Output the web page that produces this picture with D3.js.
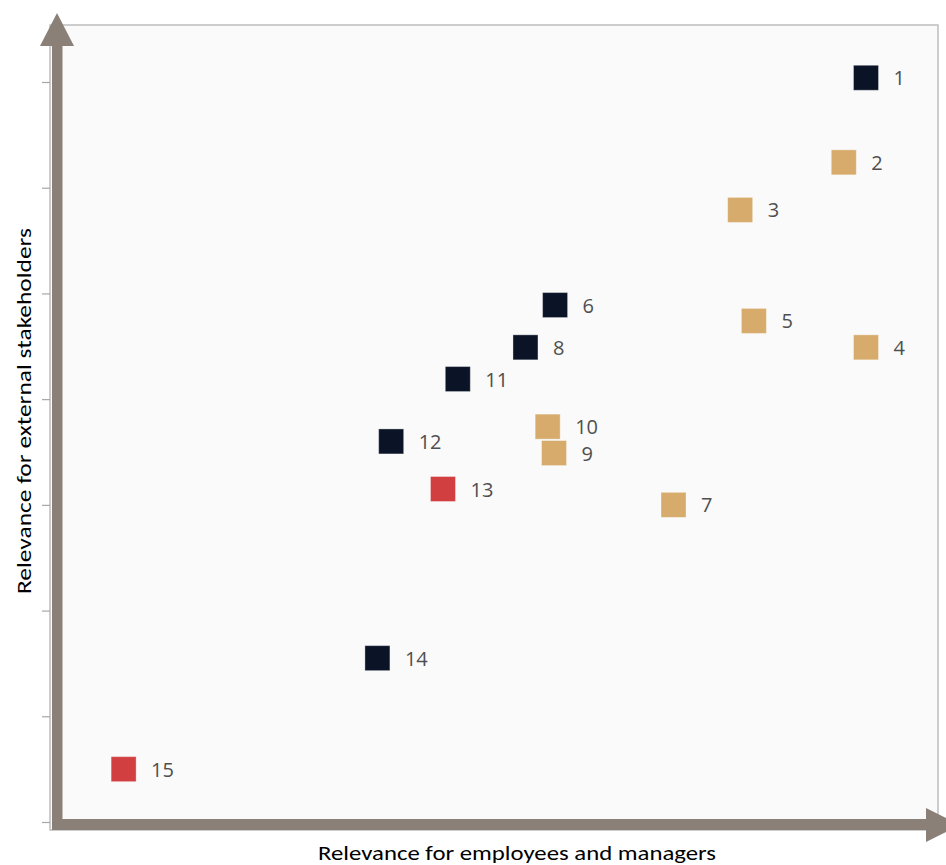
<!DOCTYPE html>
<html>
<head>
<meta charset="utf-8">
<script src="https://cdn.jsdelivr.net/npm/d3@7"></script>
<style>
  body { margin: 0; background: #ffffff; }
</style>
</head>
<body>
<div id="chart"></div>
<script>
// data
var ids = [1, 2, 3, 4, 5, 6, 7, 8, 9, 10, 11, 12, 13, 14, 15];
var employees = [7.65, 7.44, 6.46, 7.65, 6.59, 4.71, 5.83, 4.43, 4.70, 4.64, 3.79, 3.16, 3.65, 3.03, 0.63];
var stakeholders = [7.04, 6.24, 5.79, 4.49, 4.74, 4.89, 3.00, 4.49, 3.49, 3.74, 4.19, 3.60, 3.15, 1.55, 0.50];
var groups = ["A", "B", "B", "B", "B", "A", "B", "A", "B", "B", "A", "A", "C", "A", "C"];
var yTicks = [0, 1, 2, 3, 4, 5, 6, 7];

var w = 946;
var h = 865;
var axisColor = "#8a8077";

var svg = d3.select("#chart")
    .append("svg")
    .attr("width", w)
    .attr("height", h);

// Scales
var xScale = d3.scaleLinear()
    .domain([0, 8])
    .range([57, 903]);

var yScale = d3.scaleLinear()
    .domain([0, 7])
    .range([822, 82]);

var color = d3.scaleOrdinal()
    .domain(["A", "B", "C"])
    .range(["#0b1427", "#d6ab6b", "#d13f40"]);

// Plot background
svg.append("rect")
    .attr("x", 50)
    .attr("y", 25)
    .attr("width", 888)
    .attr("height", 805)
    .attr("fill", "#fafafa")
    .attr("stroke", "#bdbdbd")
    .attr("stroke-width", 1.5);

// Y axis ticks (no labels)
var yAxis = d3.axisLeft(yScale)
    .tickValues(yTicks)
    .tickSize(8)
    .tickSizeOuter(0)
    .tickFormat("");

var gy = svg.append("g")
    .attr("transform", "translate(50,0)")
    .call(yAxis);
gy.select(".domain").remove();
gy.selectAll(".tick line").attr("stroke", "#a6a6a6").attr("stroke-width", 1.2);

// Thick arrow axes
svg.append("rect")
    .attr("x", 52)
    .attr("y", 44)
    .attr("width", 10.5)
    .attr("height", 786)
    .attr("fill", axisColor);

svg.append("path")
    .attr("d", "M57,13 L74,46 L40,46 Z")
    .attr("fill", axisColor);

svg.append("rect")
    .attr("x", 52)
    .attr("y", 819)
    .attr("width", 876)
    .attr("height", 11)
    .attr("fill", axisColor);

svg.append("path")
    .attr("d", "M926,808 L960,825 L926,842 Z")
    .attr("fill", axisColor);

// Points
var data = ids.map(function (id, i) {
    return { id: id, x: employees[i], y: stakeholders[i], group: groups[i] };
});

var size = 25;

svg.selectAll("rect.pt")
    .data(data)
    .enter()
    .append("rect")
    .attr("class", "pt")
    .attr("x", d => xScale(d.x) - size / 2)
    .attr("y", d => yScale(d.y) - size / 2)
    .attr("width", size)
    .attr("height", size)
    .attr("fill", d => color(d.group))
    .attr("stroke", "#ffffff")
    .attr("stroke-opacity", 0.35)
    .attr("stroke-width", 1);

svg.selectAll("text.lbl")
    .data(data)
    .enter()
    .append("text")
    .attr("class", "lbl")
    .attr("x", d => xScale(d.x) + size / 2 + 15)
    .attr("y", d => yScale(d.y) + 7.5)
    .attr("font-family", "'Open Sans', sans-serif")
    .attr("font-size", "20px")
    .attr("fill", "#4f4f4f")
    .text(d => d.id);

// Axis titles
svg.append("text")
    .attr("x", 517)
    .attr("y", 860)
    .attr("text-anchor", "middle")
    .attr("font-family", "Carlito, Calibri, 'Open Sans', sans-serif")
    .attr("font-size", "21px")
    .attr("fill", "#000000")
    .attr("textLength", 398)
    .attr("lengthAdjust", "spacingAndGlyphs")
    .text("Relevance for employees and managers");

svg.append("text")
    .attr("transform", "rotate(-90)")
    .attr("x", -411)
    .attr("y", 31)
    .attr("text-anchor", "middle")
    .attr("font-family", "Carlito, Calibri, 'Open Sans', sans-serif")
    .attr("font-size", "21px")
    .attr("fill", "#000000")
    .attr("textLength", 366)
    .attr("lengthAdjust", "spacingAndGlyphs")
    .text("Relevance for external stakeholders");
</script>
</body>
</html>
